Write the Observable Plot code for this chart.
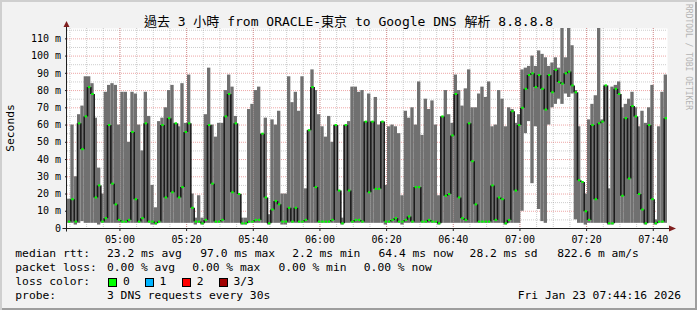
<!DOCTYPE html>
<html><head><meta charset="utf-8">
<script src="https://cdn.jsdelivr.net/npm/d3@7"></script>
<script src="https://cdn.jsdelivr.net/npm/@observablehq/plot@0.6"></script>
<style>
html,body{margin:0;padding:0;background:#f2f2f2;}
#wrap{position:relative;width:697px;height:310px;background:#f2f2f2;overflow:hidden;
  box-shadow: inset 2px 2px 0 #cfcfcf, inset -2px -2px 0 #9e9e9e;
  font-family:"DejaVu Sans Mono","Noto Sans CJK TC",monospace;color:#000;}
#wrap svg{position:absolute;left:0;top:0;}
.t{position:absolute;white-space:pre;font-size:11.3px;line-height:14px;height:14px;}
.box{position:absolute;width:7px;height:7px;border:1px solid #000;}
</style></head>
<body>
<div id="wrap"></div>
<script>
// ---- data (one value per minute, ms) ----
const hi = [
 17,60,30,66,71,88,88,84,64,35,20,79,83,84,83,60,79,79,50,79,78,60,45,79,65,25,12,62,64,70,
 80,83,61,59,84,61,89,20,6,19,6,66,93,60,53,61,61,80,89,82,65,20,6,6,69,72,80,82,55,64,
 8,63,60,68,20,20,88,73,79,68,88,23,57,92,80,66,59,53,65,50,60,22,6,60,62,82,82,79,80,62,
 78,62,76,60,62,25,59,60,59,55,19,68,64,70,60,85,54,75,69,74,60,19,65,80,66,61,89,80,71,81,
 92,70,70,78,82,76,85,59,60,80,75,59,70,69,61,66,92,93,94,100,94,103,101,99,94,96,99,93,116,99,
 116,106,80,59,27,20,63,72,77,116,63,83,23,82,83,85,70,72,75,79,70,59,68,61,70,83,5,59,79,89
];
const lo = [
 3,3,2,3,4,3,3,3,3,2,3,3,3,3,3,3,3,3,3,3,3,3,3,3,3,2,2,3,3,3,
 3,3,3,3,3,3,3,3,2,3,2,3,3,3,3,3,3,3,3,3,3,3,2,2,3,3,3,3,3,3,
 2,3,3,3,2,2,3,3,3,3,3,3,3,3,3,3,3,3,3,3,3,3,2,3,3,3,3,3,3,3,
 3,3,3,3,3,2,3,3,3,3,2,3,3,3,3,3,3,3,3,3,3,2,3,3,3,3,3,3,3,3,
 3,3,3,3,3,3,3,3,3,3,3,2,3,3,3,3,10,55,62,26,59,11,4,3,60,70,72,75,72,78,
 76,78,5,3,3,2,3,3,3,3,3,3,2,2,3,3,3,3,3,3,3,3,3,2,3,3,2,3,3,3
];
const med = [
 4,17,4,61,46,65,82,78,18,25,4,6,60,26,14,5,4,4,5,56,17,4,6,61,4,4,3,4,60,18,
 64,21,61,18,24,56,61,12,4,4,3,5,60,26,4,4,5,65,78,21,61,20,3,3,4,4,5,5,55,18,
 3,11,16,14,4,4,12,4,12,4,4,5,57,82,24,4,4,4,4,5,60,22,3,60,22,4,5,5,4,62,
 21,62,23,23,62,4,4,5,6,4,4,5,7,4,24,24,4,4,5,4,4,3,65,19,20,54,78,18,6,5,
 61,39,14,4,4,4,4,25,5,18,17,3,5,68,22,60,70,81,89,90,82,89,81,69,89,79,92,85,84,90,
 91,83,79,28,27,10,5,60,17,61,62,83,3,3,81,78,19,64,29,71,65,20,11,3,60,17,3,4,4,64
];
const startTime = "2026-01-23T04:44:16";
const yTickValues = [0,10,20,30,40,50,60,70,80,90,100,110];
const xTickLabels = ["05:00","05:20","05:40","06:00","06:20","06:40","07:00","07:20","07:40"];
const titleText = "過去 3 小時 from ORACLE-東京 to Google DNS 解析 8.8.8.8";
const yLabel = "Seconds";
const rttRow = ["median rtt:", "23.2 ms avg", "97.0 ms max", "2.2 ms min", "64.4 ms now", "28.2 ms sd", "822.6 m am/s"];
const lossRow = ["packet loss:", "0.00 % avg", "0.00 % max", "0.00 % min", "0.00 % now"];
const lossColorLabel = "loss color:";
const lossColorNames = ["0", "1", "2", "3/3"];
const probeLabel = "probe:";
const probeText = "3 DNS requests every 30s";
const stampText = "Fri Jan 23 07:44:16 2026";
const watermark = "RRDTOOL / TOBI OETIKER";

// ---- build ----
const start = new Date(startTime);
const MIN = 60000;
const end = new Date(+start + hi.length * MIN);
const rows = hi.map((h, i) => ({
  t0: new Date(+start + i * MIN), t1: new Date(+start + (i + 1) * MIN),
  lo: lo[i], hi: h, med: med[i], prev: i > 0 ? med[i - 1] : med[i]
}));
const day = "2026-01-23T";
const xTicks = xTickLabels.map(s => new Date(day + s + ":00"));
const minorX = d3.timeMinute.every(5).range(start, end);
const minorY = d3.range(5, 116, 5).filter(v => v % 10 !== 0);
const majorY = yTickValues.filter(v => v > 0);

function axes(index, scales, values, dims) {
  const g = d3.create("svg:g");
  const xl = dims.marginLeft - 0.5, xr = dims.width - dims.marginRight;
  const yb = dims.height - dims.marginBottom + 0.5, yt = dims.marginTop;
  g.append("line").attr("x1", xl - 4).attr("x2", xr + 2).attr("y1", yb).attr("y2", yb).attr("stroke", "#1f1f1f");
  g.append("line").attr("x1", xl).attr("x2", xl).attr("y1", yb + 3).attr("y2", yt - 2).attr("stroke", "#1f1f1f");
  g.append("path").attr("d", `M${xr + 2},${yb - 3}L${xr + 9},${yb}L${xr + 2},${yb + 3}Z`).attr("fill", "#801f1f");
  g.append("path").attr("d", `M${xl - 3},${yt - 1}L${xl},${yt - 7}L${xl + 3},${yt - 1}Z`).attr("fill", "#801f1f");
  return g.node();
}

const chart = Plot.plot({
  width: 697, height: 310,
  marginLeft: 67, marginRight: 30, marginTop: 28, marginBottom: 82,
  style: {background: "transparent", fontFamily: "DejaVu Sans Mono", fontSize: "10px", color: "#000"},
  x: {type: "time", domain: [start, end]},
  y: {domain: [0, 116]},
  marks: [
    Plot.frame({fill: "#ffffff", stroke: null}),
    Plot.ruleY(minorY, {stroke: "#8f8f8f", strokeOpacity: 0.45, strokeDasharray: "1,1"}),
    Plot.ruleX(minorX, {stroke: "#8f8f8f", strokeOpacity: 0.45, strokeDasharray: "1,1"}),
    Plot.ruleY(majorY, {stroke: "#de4f4f", strokeOpacity: 0.5, strokeDasharray: "1,1"}),
    Plot.ruleX(xTicks, {stroke: "#de4f4f", strokeOpacity: 0.5, strokeDasharray: "1,1"}),
    Plot.rect(rows, {x1: "t0", x2: "t1", y1: "lo", y2: "hi", fill: "#707070"}),
    Plot.link(rows.slice(1), {x1: "t0", x2: "t0", y1: "prev", y2: "med", stroke: "#1a1a1a", strokeWidth: 1.6}),
    Plot.link(rows, {x1: d => new Date(+d.t0 + 9000), x2: d => new Date(+d.t1 - 9000), y1: "med", y2: "med", stroke: "#00ff00", strokeWidth: 2}),
    Plot.axisY({ticks: yTickValues, tickFormat: d => d === 0 ? "0" : d + " m", tickSize: 2, tickPadding: 4.5, label: null, stroke: "#1f1f1f"}),
    Plot.axisX({ticks: xTicks, tickFormat: d3.timeFormat("%H:%M"), tickSize: 3, tickPadding: 4, label: null, stroke: "#1f1f1f"}),
    axes
  ]
});
const wrap = document.getElementById("wrap");
wrap.appendChild(chart);

function txt(s, left, top, extra) {
  const d = document.createElement("div");
  d.className = "t"; d.textContent = s;
  d.style.left = left + "px"; d.style.top = top + "px";
  if (extra) Object.assign(d.style, extra);
  wrap.appendChild(d); return d;
}
// title
txt(titleText, 0, 13.5, {width: "697px", textAlign: "center", fontSize: "13px", lineHeight: "16px", height: "16px"});
// y label
txt(yLabel, 10.5, 127.5, {transform: "translate(-50%,-50%) rotate(-90deg)"});
// watermark
txt(watermark, 692.5, 4, {fontSize: "8px", lineHeight: "9px", height: "9px", color: "#b4b4b4", transformOrigin: "0 0", transform: "rotate(90deg)"});
// legend
const rttX = [15.3, 107, 200.3, 292.3, 378.5, 469.6, 557.2];
rttRow.forEach((s, i) => txt(s, rttX[i], 247.3));
const lossX = [15.3, 107, 192.3, 278.5, 363.8];
lossRow.forEach((s, i) => txt(s, lossX[i], 261.3));
txt(lossColorLabel, 15.3, 275.3);
const swatch = ["#00ff00", "#00b4ff", "#ff0000", "#a00000"];
const boxX = [108, 145.3, 182, 219];
const nameX = [123, 159.4, 196.7, 233.4];
lossColorNames.forEach((s, i) => {
  const b = document.createElement("div");
  b.className = "box"; b.style.left = boxX[i] + "px"; b.style.top = "278px"; b.style.background = swatch[i];
  wrap.appendChild(b);
  txt(s, nameX[i], 275.3);
});
txt(probeLabel, 15.3, 289);
txt(probeText, 107, 289);
txt(stampText, 0, 289, {left: "auto", right: "16px"});
</script>
</body></html>
